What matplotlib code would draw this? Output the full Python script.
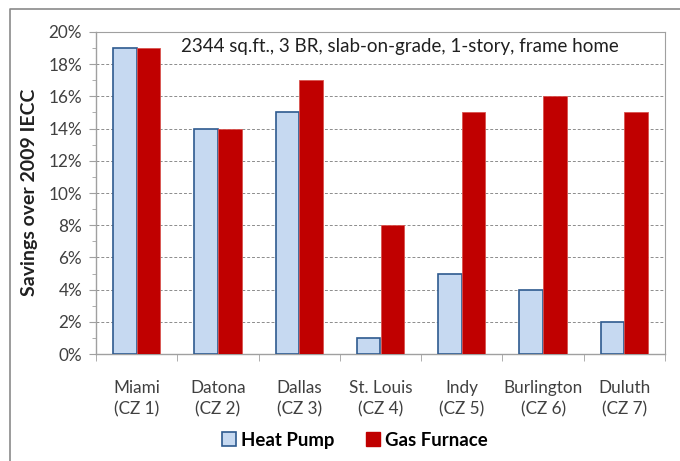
import matplotlib
matplotlib.use("Agg")
import matplotlib.pyplot as plt
import numpy as np
from matplotlib.ticker import MultipleLocator, PercentFormatter
from matplotlib.patches import Patch
from matplotlib.lines import Line2D

categories = ["Miami\n(CZ 1)", "Datona\n(CZ 2)", "Dallas\n(CZ 3)", "St. Louis\n(CZ 4)",
              "Indy\n(CZ 5)", "Burlington\n(CZ 6)", "Duluth\n(CZ 7)"]
heat_pump = [19, 14, 15, 1, 5, 4, 2]
gas_furnace = [19, 14, 17, 8, 15, 16, 15]
series_names = ["Heat Pump", "Gas Furnace"]
title_text = "2344 sq.ft., 3 BR, slab-on-grade, 1-story, frame home"
ylabel = "Savings over 2009 IECC"

plt.rcParams['font.family'] = ['Lato', 'DejaVu Sans']
txt = '#404040'

fig = plt.figure(figsize=(6.8, 4.61), dpi=100)
ax = fig.add_axes([96/680, 1-354/461, (665-96)/680, (354-32)/461])

x = np.arange(len(categories))
w = 0.29
ax.bar(x - w/2, heat_pump, w, color='#c6d9f1', edgecolor='#2e5a8f', linewidth=1.2, zorder=3)
ax.bar(x + w/2, gas_furnace, w, color='#c00000', edgecolor='#d9534f', linewidth=0.6, zorder=3)

ax.set_xlim(-0.5, len(categories) - 0.5)
ax.set_ylim(0, 20)
ax.yaxis.set_major_locator(MultipleLocator(2))
ax.yaxis.set_minor_locator(MultipleLocator(1))
ax.yaxis.set_major_formatter(PercentFormatter(decimals=0))
ax.grid(axis='y', which='major', linestyle=(0, (3, 2)), color='#8c8c8c', linewidth=0.7, zorder=0)

ax.set_xticks(x)
ax.set_xticklabels(categories, fontsize=12.3, color=txt, linespacing=1.35)
ax.set_xticks(np.arange(len(categories) + 1) - 0.5, minor=True)
ax.tick_params(axis='x', which='major', length=0, pad=19)
ax.tick_params(axis='x', which='minor', length=5, color='#a0a0a0', direction='out')
ax.tick_params(axis='y', which='major', length=5, color='#a0a0a0', labelsize=12.3, labelcolor=txt, pad=5)
ax.tick_params(axis='y', which='minor', length=3, color='#a0a0a0')

for s in ['top', 'right']:
    ax.spines[s].set_color('#a0a0a0')
    ax.spines[s].set_linewidth(0.8)
for s in ['left', 'bottom']:
    ax.spines[s].set_color('#a0a0a0')
    ax.spines[s].set_linewidth(1.0)

ax.text(0.534, 0.955, title_text, transform=ax.transAxes, ha='center', va='center',
        fontsize=13.5, color='#202020')

fig.text(30/680, 1-192/461, ylabel, rotation=90, ha='center', va='center',
         fontsize=14, fontweight='bold', color='#202020')

handles = [Patch(facecolor='#c6d9f1', edgecolor='#2e5a8f', linewidth=1.2),
           Patch(facecolor='#c00000', edgecolor='#c00000')]
fig.legend(handles, series_names, loc='center', bbox_to_anchor=(0.522, 1-440/461), ncol=2,
           frameon=False, prop={'weight': 'bold', 'size': 13.4}, handlelength=0.75,
           handleheight=0.75, columnspacing=1.7, handletextpad=0.25)

# outer chart frame
fig.add_artist(Line2D([10/680, 10/680, 1.0], [0.0, 1-9/461, 1-9/461],
                      transform=fig.transFigure, color='#8a8a8a', linewidth=1.2))

fig.savefig("out.png", dpi=100)
